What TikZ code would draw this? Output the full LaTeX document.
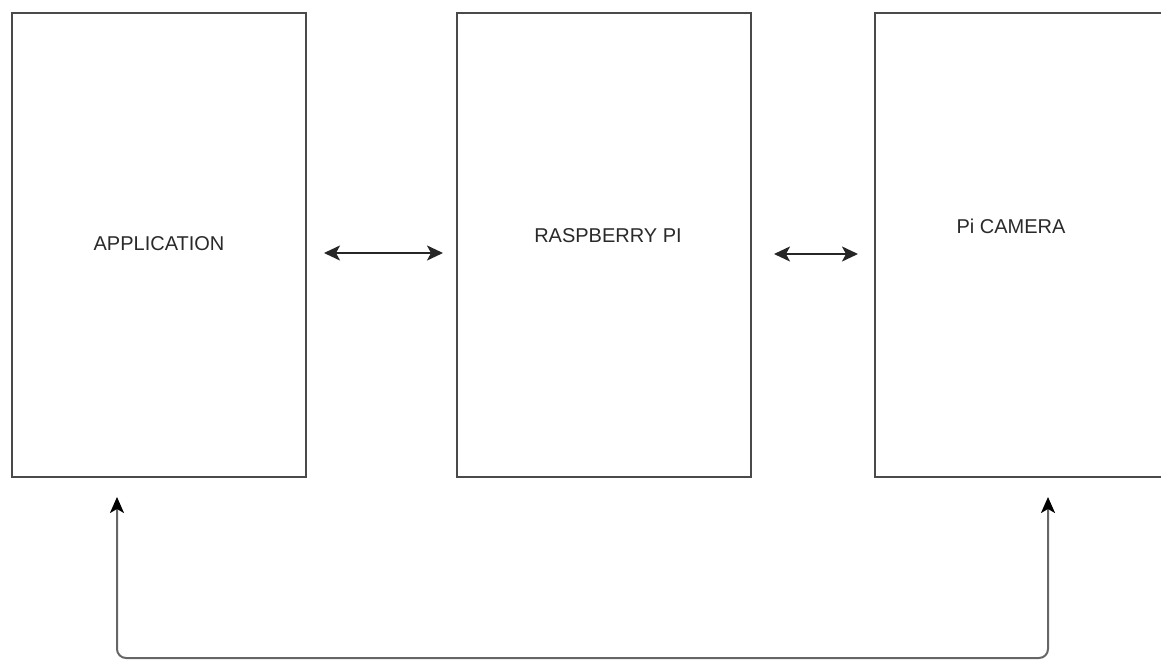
\documentclass[tikz,border=0pt]{standalone}
\usepackage{fontspec}
\setmainfont{Liberation Sans}
\usetikzlibrary{arrows.meta}
\definecolor{boxline}{HTML}{4A4A4A}
\definecolor{txt}{HTML}{2A2A2A}
\begin{document}
\begin{tikzpicture}[x=1pt,y=-1pt,
  block/.style={draw=boxline,line width=2pt,fill=white,minimum width=294pt,minimum height=464pt,inner sep=0pt,anchor=north west},
  lbl/.style={text=txt,font=\fontsize{20}{24}\selectfont,inner sep=0pt},
  conn/.style={line width=2pt,draw=black!85,{Stealth[length=16pt,width=15pt,inset=4pt]}-{Stealth[length=16pt,width=15pt,inset=4pt]}},
  loop/.style={line width=2pt,draw=black!60,rounded corners=9pt,{Stealth[length=16pt,width=14pt,inset=4pt,color=black]}-{Stealth[length=16pt,width=14pt,inset=4pt,color=black]}}]
\useasboundingbox (0,0) rectangle (1161,660);
\node[block] (app) at (11,12) {};
\node[block] (rpi) at (456,12) {};
\node[block] (cam) at (874,12) {};
\node[lbl] (tapp) at (159,244) {APPLICATION};
\node[lbl] (trpi) at (608,236) {RASPBERRY PI};
\node[lbl] (tcam) at (1011,226) {Pi CAMERA};
\draw[conn,shorten <=17pt,shorten >=13pt] ([yshift=-8pt]app.east) -- ([yshift=-8pt]rpi.west);
\draw[conn,shorten <=22pt,shorten >=16pt] ([yshift=-9pt]rpi.east) -- ([yshift=-9pt]cam.west);
\coordinate (bl) at (117,497);
\coordinate (br) at (1048,497);
\coordinate (bot) at (580,658);
\draw[loop] (bl) |- (bot) -| (br);
\end{tikzpicture}
\end{document}
